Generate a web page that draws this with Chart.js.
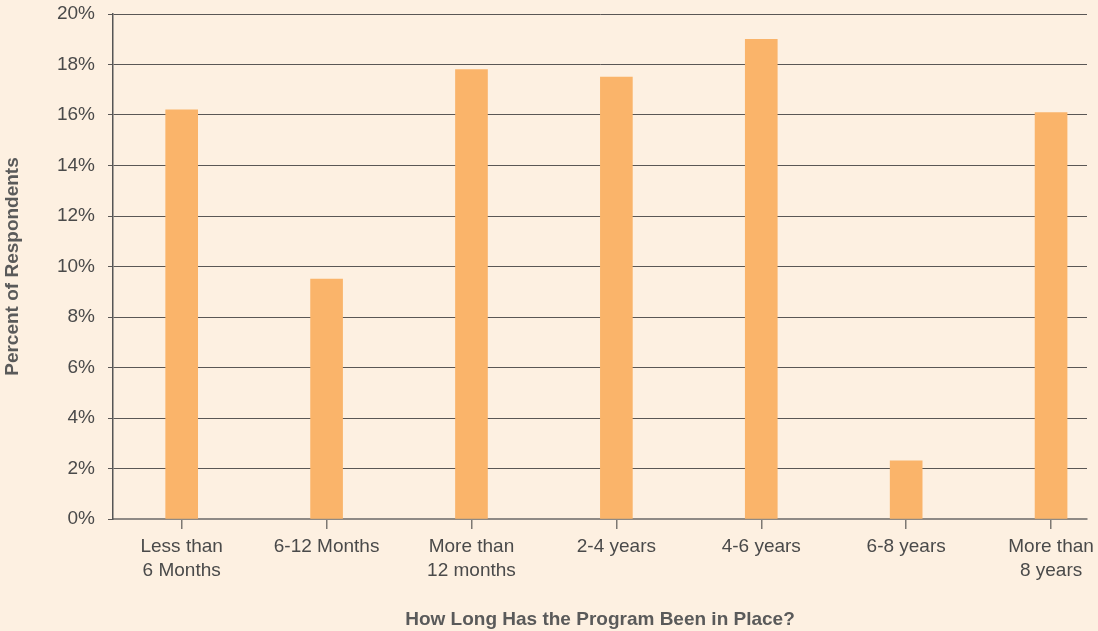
<!DOCTYPE html>
<html>
<head>
<meta charset="utf-8">
<script src="https://cdn.jsdelivr.net/npm/chart.js@4/dist/chart.umd.min.js"></script>
<style>
  html, body { margin: 0; padding: 0; background: #fdf0e1; overflow: hidden; }
  #wrap { width: 1098px; height: 631px; position: relative; }
</style>
</head>
<body>
<div id="wrap"><canvas id="chart"></canvas></div>
<script>
  // categories (multi-line labels) and values in percent
  const categories = [
    ['Less than', '6 Months'],
    ['6-12 Months'],
    ['More than', '12 months'],
    ['2-4 years'],
    ['4-6 years'],
    ['6-8 years'],
    ['More than', '8 years']
  ];
  const percents = [16.2, 9.5, 17.8, 17.5, 19.0, 2.3, 16.1];
  const yTicks = [0, 2, 4, 6, 8, 10, 12, 14, 16, 18, 20];

  const xTitle = 'How Long Has the Program Been in Place?';
  const yTitle = 'Percent of Respondents';

  const textColor = '#4a4a4a';
  const titleColor = '#5a5a5a';
  const font = 'Liberation Sans, Arial, Helvetica, sans-serif';

  const points = percents.map((v, i) => ({ x: i, y: v }));

  new Chart(document.getElementById('chart'), {
    type: 'bar',
    data: {
      datasets: [{
        data: points,
        backgroundColor: '#fab46a',
        borderWidth: 0,
        barThickness: 32
      }]
    },
    options: {
      responsive: true,
      maintainAspectRatio: false,
      animation: false,
      layout: { padding: { top: 14, right: 11, left: 0, bottom: 0 } },
      plugins: { legend: { display: false }, tooltip: { enabled: false } },
      scales: {
        x: {
          type: 'linear',
          offset: false,
          min: -0.474,
          max: 6.248,
          afterBuildTicks: s => { s.ticks = categories.map((_, i) => ({ value: i })); },
          afterFit: s => { s.paddingLeft = 0; s.paddingRight = 0; s.height = 112; },
          ticks: {
            autoSkip: false,
            maxRotation: 0,
            padding: 6,
            color: textColor,
            font: { family: font, size: 19, lineHeight: 1.25 },
            callback: v => categories[v]
          },
          grid: { offset: false, drawOnChartArea: false, drawTicks: true, tickLength: 10, color: '#7d7873', lineWidth: 1.5 },
          border: { color: '#8f8a85', width: 2 },
          title: {
            display: true,
            text: xTitle,
            color: titleColor,
            font: { family: font, size: 19, weight: 'bold' },
            padding: { top: 0, bottom: 0 }
          }
        },
        y: {
          min: 0,
          max: 20,
          afterBuildTicks: s => { s.ticks = yTicks.map(v => ({ value: v })); },
          afterFit: s => { s.width = 113; s.paddingTop = 0; s.paddingBottom = 0; },
          ticks: {
            padding: 13,
            color: textColor,
            font: { family: font, size: 19 },
            callback: v => v + '%'
          },
          grid: { color: '#5a5755', lineWidth: 1, tickLength: 5 },
          border: { color: '#555', width: 1.5 },
          title: {
            display: true,
            text: yTitle,
            color: titleColor,
            font: { family: font, size: 19, weight: 'bold' },
            padding: { top: 1, bottom: 0 }
          }
        }
      }
    }
  });
</script>
</body>
</html>
